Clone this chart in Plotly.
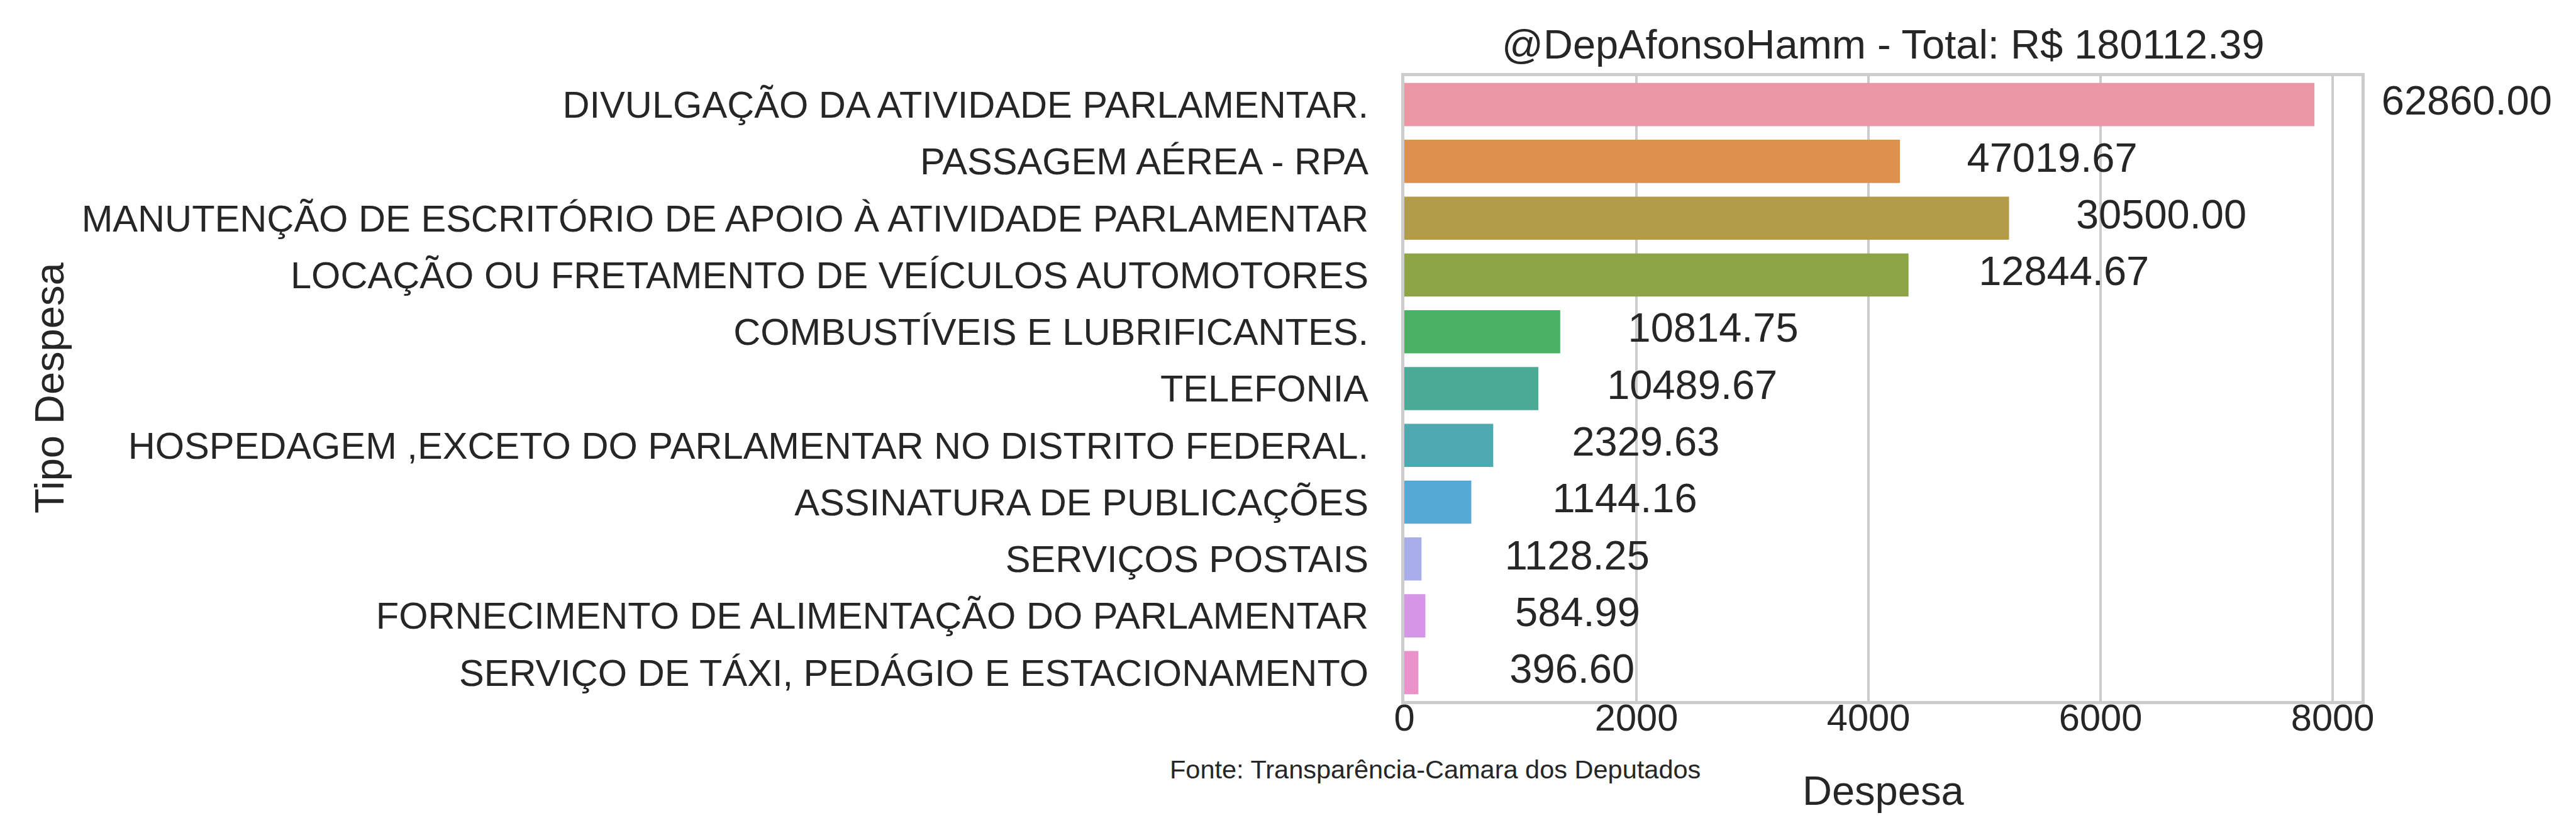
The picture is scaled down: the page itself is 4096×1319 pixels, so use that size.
import plotly.graph_objects as go

categories = [
    "DIVULGAÇÃO DA ATIVIDADE PARLAMENTAR.",
    "PASSAGEM AÉREA - RPA",
    "MANUTENÇÃO DE ESCRITÓRIO DE APOIO À ATIVIDADE PARLAMENTAR",
    "LOCAÇÃO OU FRETAMENTO DE VEÍCULOS AUTOMOTORES",
    "COMBUSTÍVEIS E LUBRIFICANTES.",
    "TELEFONIA",
    "HOSPEDAGEM ,EXCETO DO PARLAMENTAR NO DISTRITO FEDERAL.",
    "ASSINATURA DE PUBLICAÇÕES",
    "SERVIÇOS POSTAIS",
    "FORNECIMENTO DE ALIMENTAÇÃO DO PARLAMENTAR",
    "SERVIÇO DE TÁXI, PEDÁGIO E ESTACIONAMENTO",
]
bar_values = [7843, 4271, 5211, 4345, 1343, 1155, 766, 577, 148, 181, 121]
totals = [62860.00, 47019.67, 30500.00, 12844.67, 10814.75, 10489.67,
          2329.63, 1144.16, 1128.25, 584.99, 396.60]
label_x = [8421, 4848, 5788, 4949, 1927, 1746, 1444, 1276, 866, 954, 907]
x_ticks = [0, 2000, 4000, 6000, 8000]
x_max = 8251
colors = ["#EA96A3", "#DC914F", "#B39C49", "#8EA547", "#49B064", "#4BAA96",
          "#4DAAB0", "#53A9D3", "#A8AEEA", "#D696E7", "#E993CA"]

FONT = "Liberation Sans, Arial, sans-serif"
TXT = "#262626"
GRID = "#cccccc"

title_text = "@DepAfonsoHamm - Total: R$ %.2f" % round(sum(totals), 2)

W, H = 4096, 1319
ML, MR, MT, MB = 2225, 0, 113, 213
plot_w = W - ML - MR
plot_h = H - MT - MB
frame_right = 3763  # right edge of axes frame in px
dom_end = (frame_right - ML) / plot_w

fig = go.Figure()
fig.add_trace(go.Bar(
    x=bar_values, y=categories, orientation="h", xaxis="x", yaxis="y",
    marker=dict(color=colors, line=dict(width=0)),
    width=0.76, showlegend=False, hoverinfo="skip",
))
# value labels on a wider, same-scale hidden axis so labels past the frame still show
fig.add_trace(go.Scatter(
    x=label_x, y=categories, mode="text", xaxis="x2", yaxis="y",
    text=["%.2f" % t for t in totals], textposition="middle right",
    textfont=dict(family=FONT, size=65, color=TXT),
    cliponaxis=False, showlegend=False, hoverinfo="skip",
))

fig.update_layout(
    width=W, height=H,
    margin=dict(l=ML, r=MR, t=MT, b=MB, pad=0),
    paper_bgcolor="white", plot_bgcolor="rgba(0,0,0,0)",
    font=dict(family=FONT, color=TXT),
)

def px_to_paper(xpx, ypx):
    return (xpx - ML) / plot_w, (H - MB - ypx) / plot_h

annotations = []
tx, ty = px_to_paper((ML + frame_right) / 2, 62)
annotations.append(dict(x=tx, y=ty, xref="paper", yref="paper", text=title_text,
                        showarrow=False, xanchor="center", yanchor="middle",
                        font=dict(family=FONT, size=65, color=TXT)))
dx, dy = px_to_paper((ML + frame_right) / 2, 1248)
annotations.append(dict(x=dx, y=dy, xref="paper", yref="paper", text="Despesa",
                        showarrow=False, xanchor="center", yanchor="middle",
                        font=dict(family=FONT, size=65, color=TXT)))
yx, yy = px_to_paper(48, 609)
annotations.append(dict(x=yx, y=yy, xref="paper", yref="paper", text="Tipo Despesa",
                        showarrow=False, xanchor="center", yanchor="middle", textangle=-90,
                        font=dict(family=FONT, size=65, color=TXT)))
fx, fy = px_to_paper(1846, 1214)
annotations.append(dict(x=fx, y=fy, xref="paper", yref="paper",
                        text="Fonte: Transparência-Camara dos Deputados",
                        showarrow=False, xanchor="left", yanchor="middle",
                        font=dict(family=FONT, size=41.5, color=TXT)))
fig.update_layout(annotations=annotations)

fig.update_layout(
    xaxis=dict(
        domain=[0, dom_end], anchor="y",
        range=[0, x_max], tickvals=x_ticks, ticktext=[str(v) for v in x_ticks],
        showgrid=True, gridcolor=GRID, gridwidth=3.5, zeroline=False,
        showline=True, linecolor=GRID, linewidth=5, mirror=True,
        ticks="", tickfont=dict(family=FONT, size=59.6, color=TXT),
        ticklabelstandoff=-30,
    ),
    xaxis2=dict(
        domain=[0, 1], anchor="y",
        range=[0, x_max / dom_end], visible=False, showgrid=False,
        zeroline=False, showline=False,
    ),
    yaxis=dict(
        anchor="x",
        categoryorder="array", categoryarray=categories, range=[10.5, -0.5],
        showgrid=False, zeroline=False,
        showline=True, linecolor=GRID, linewidth=5, mirror=True,
        ticks="", tickfont=dict(family=FONT, size=59.6, color=TXT),
        ticklabelstandoff=40,
    ),
)

fig.write_html("out.html")
